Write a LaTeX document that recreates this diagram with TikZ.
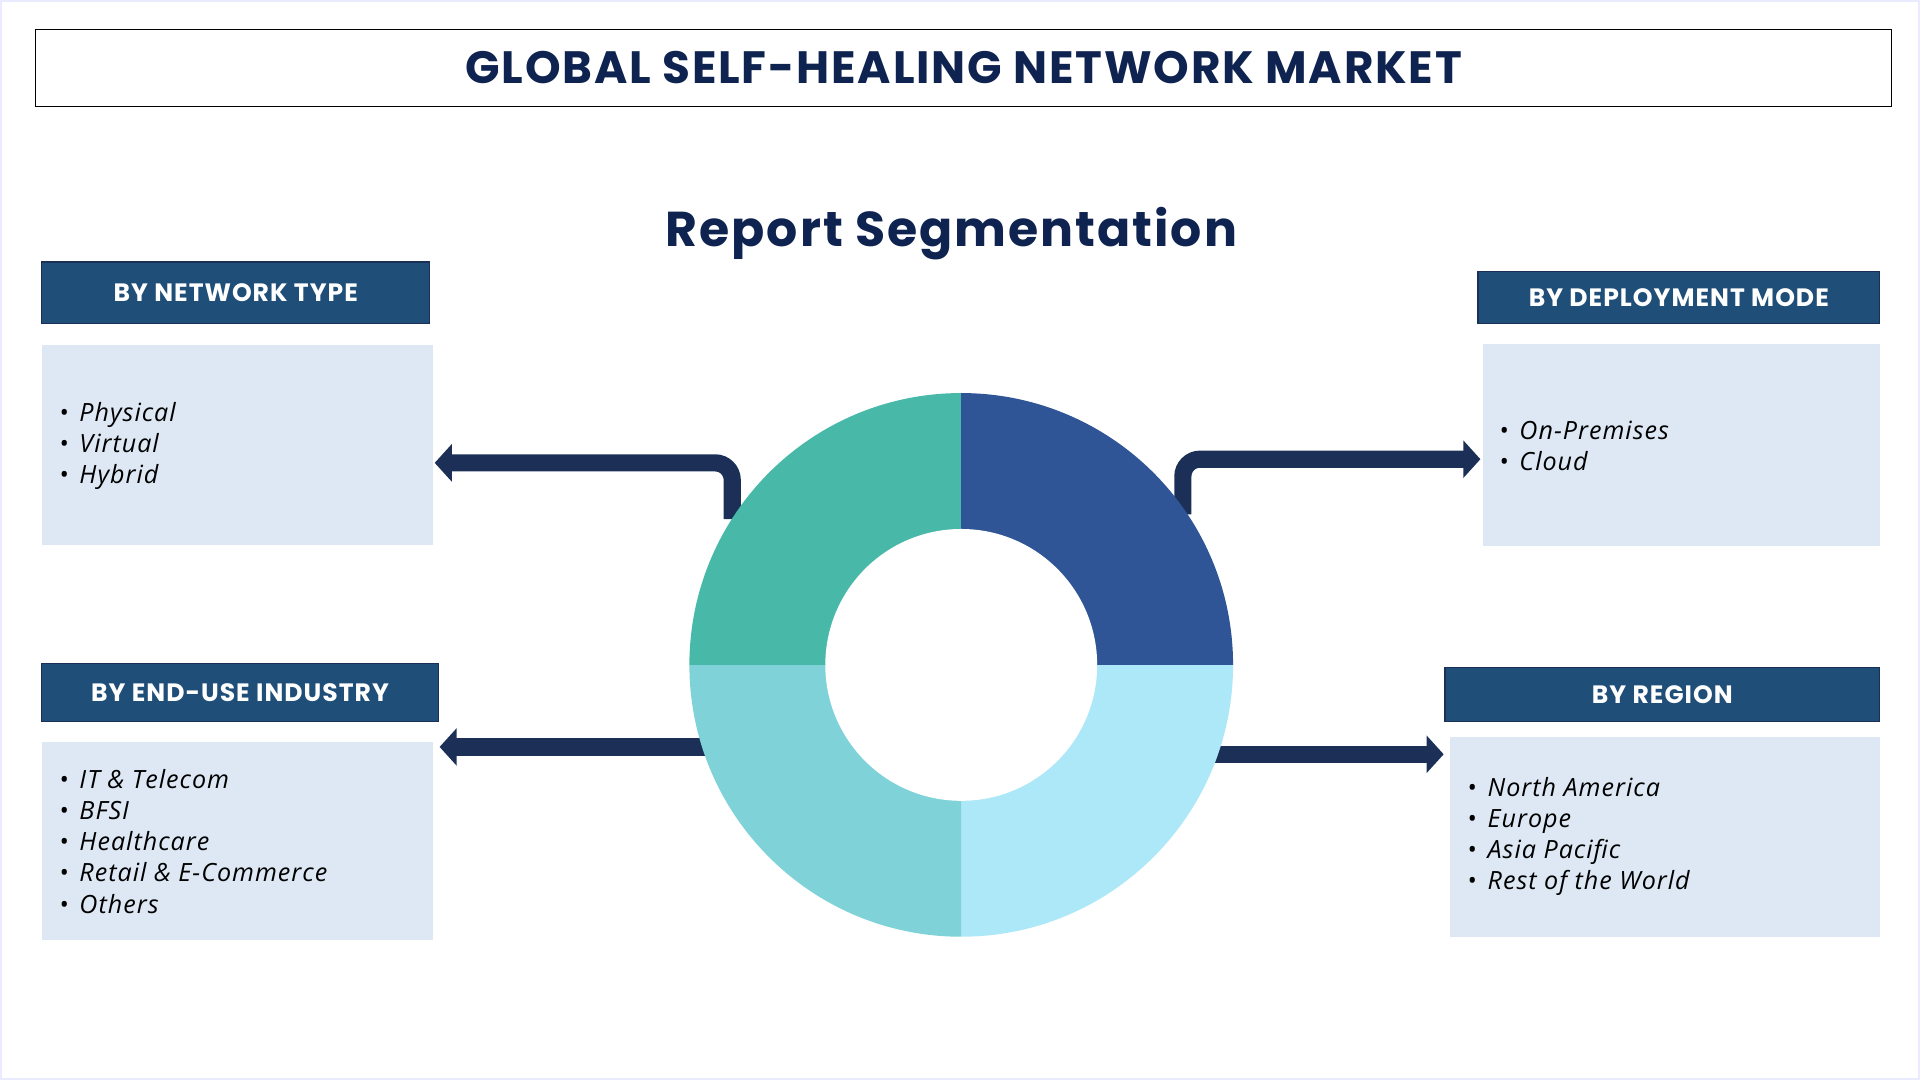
\documentclass[tikz,border=0pt]{standalone}
\usepackage{fontspec}
\setmainfont{Open Sans}[LetterSpace=4]
\newfontfamily\pop{Poppins}
\newfontfamily\popw{Poppins}[LetterSpace=4]
\usetikzlibrary{arrows.meta}
\definecolor{navy}{HTML}{0F2350}
\definecolor{hdr}{HTML}{1F4E79}
\definecolor{lite}{HTML}{DDE8F4}
\definecolor{arr}{HTML}{1B2F57}
\definecolor{qtl}{HTML}{48B9A8}
\definecolor{qtr}{HTML}{2F5597}
\definecolor{qbr}{HTML}{ADE8F8}
\definecolor{qbl}{HTML}{7FD3D8}
\tikzset{
 hdrbox/.style={fill=hdr,draw=arr,line width=1pt,text=white,font=\popw\fontsize{20.5}{24}\selectfont\bfseries,inner sep=0pt},
 litebox/.style={fill=lite,draw=none},
 item/.style={anchor=west,font=\fontsize{20.5}{25.5}\selectfont\itshape,text=black,inner sep=0pt,align=left},
 conn/.style={draw=arr,line width=14pt,rounded corners=14pt,-{Triangle[length=14pt,width=30pt]}}
}
\begin{document}
\begin{tikzpicture}[x=1pt,y=-1pt]
\useasboundingbox (0,0) rectangle (1568,882);
\draw[draw=blue!8,line width=2pt] (1,1) rectangle (1567,881);
\node[draw=black,line width=1pt,minimum width=1516pt,minimum height=63pt,font=\popw\fontsize{37}{42}\selectfont\bfseries,text=navy] (title) at (787,55.5) {GLOBAL SELF-HEALING NETWORK MARKET};
\node[font=\popw\fontsize{40}{46}\selectfont\bfseries,text=navy] (rs) at (777,191) {Report Segmentation};
% header boxes
\node[hdrbox,minimum width=317pt,minimum height=50pt] (h1) at (192.5,239) {BY NETWORK TYPE};
\node[hdrbox,minimum width=328pt,minimum height=42pt] (h2) at (1371,243) {BY DEPLOYMENT MODE};
\node[hdrbox,minimum width=324pt,minimum height=47pt] (h3) at (196,565.5) {BY END-USE INDUSTRY};
\node[hdrbox,minimum width=355pt,minimum height=44pt] (h4) at (1357.5,567) {BY REGION};
% content boxes
\fill[litebox] (34,282) rectangle (354,445);
\fill[litebox] (1211,281) rectangle (1535,446);
\fill[litebox] (34,606) rectangle (354,768);
\fill[litebox] (1184,602) rectangle (1535,765);
\node[item] (t1) at (48,364) {•\hspace{9pt}Physical\\•\hspace{9pt}Virtual\\•\hspace{9pt}Hybrid};
\node[item] (t2) at (1224,364) {•\hspace{9pt}On-Premises\\•\hspace{9pt}Cloud};
\node[item] (t3) at (48,687) {•\hspace{9pt}IT \& Telecom\\•\hspace{9pt}BFSI\\•\hspace{9pt}Healthcare\\•\hspace{9pt}Retail \& E-Commerce\\•\hspace{9pt}Others};
\node[item] (t4) at (1198,683) {•\hspace{9pt}North America\\•\hspace{9pt}Europe\\•\hspace{9pt}Asia Pacific\\•\hspace{9pt}Rest of the World};
% arrows
\coordinate (a1s) at (598,424); \coordinate (a1e) at (355,378);
\coordinate (a2s) at (966,420); \coordinate (a2e) at (1209,375);
\coordinate (a3s) at (580,610); \coordinate (a3e) at (359,610);
\coordinate (a4s) at (985,616); \coordinate (a4e) at (1179,616);
\draw[conn] (a1s) |- (a1e);
\draw[conn] (a2s) |- (a2e);
\draw[conn] (a3s) -- (a3e);
\draw[conn] (a4s) -- (a4e);
% donut
\coordinate (c) at (785,543);
\fill[qbr] (c) -- ++(0:222) arc[start angle=0,end angle=90,radius=222] -- cycle;
\fill[qbl] (c) -- ++(90:222) arc[start angle=90,end angle=180,radius=222] -- cycle;
\fill[qtl] (c) -- ++(180:222) arc[start angle=180,end angle=270,radius=222] -- cycle;
\fill[qtr] (c) -- ++(270:222) arc[start angle=270,end angle=360,radius=222] -- cycle;
\fill[white] (c) circle[radius=111];
\end{tikzpicture}
\end{document}
